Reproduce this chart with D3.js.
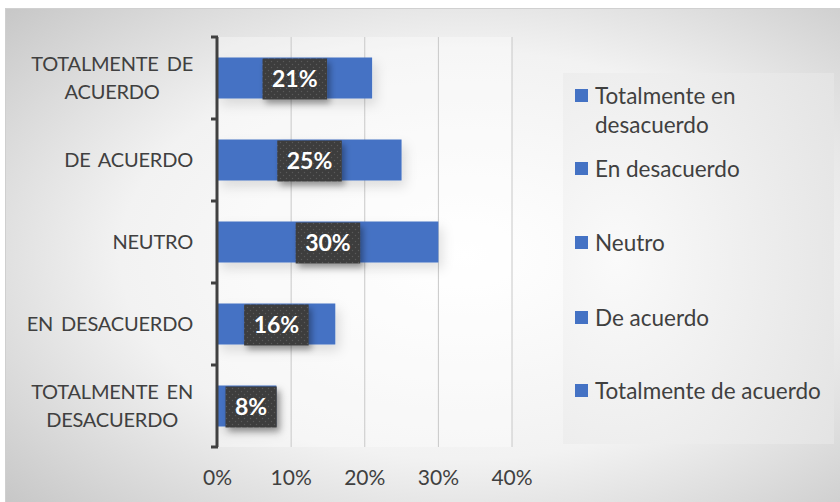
<!DOCTYPE html>
<html><head><meta charset="utf-8">
<script src="https://cdn.jsdelivr.net/npm/d3@7/dist/d3.min.js"></script>
<style>body{margin:0;background:#fff}svg{display:block}</style>
</head><body>
<script>
const categories = [["TOTALMENTE DE","ACUERDO"],["DE ACUERDO"],["NEUTRO"],["EN DESACUERDO"],["TOTALMENTE EN","DESACUERDO"]];
const values = [0.21, 0.25, 0.30, 0.16, 0.08];
const labels = ["21%","25%","30%","16%","8%"];
const xTicks = [0, 0.1, 0.2, 0.3, 0.4];
const legendItems = [["Totalmente en","desacuerdo"],["En desacuerdo"],["Neutro"],["De acuerdo"],["Totalmente de acuerdo"]];

const W = 840, H = 502;
const svg = d3.select("body").append("svg").attr("width", W).attr("height", H);
const defs = svg.append("defs");
const rg = defs.append("radialGradient").attr("id","bg").attr("cx","0.55").attr("cy","0.5").attr("r","0.75");
rg.append("stop").attr("offset","0").attr("stop-color","#ffffff");
rg.append("stop").attr("offset","0.55").attr("stop-color","#f2f2f2");
rg.append("stop").attr("offset","1").attr("stop-color","#c6c6c6");
const lg = defs.append("radialGradient").attr("id","lgbg").attr("cx","0.2").attr("cy","0.5").attr("r","1");
lg.append("stop").attr("offset","0").attr("stop-color","#fafafa");
lg.append("stop").attr("offset","1").attr("stop-color","#e2e2e2");
const pat = defs.append("pattern").attr("id","dots").attr("width",6).attr("height",6).attr("patternUnits","userSpaceOnUse");
pat.append("rect").attr("width",6).attr("height",6).attr("fill","#3d3d3d");
pat.append("circle").attr("cx",1.5).attr("cy",1.5).attr("r",0.7).attr("fill","#5a5a5a");
pat.append("circle").attr("cx",4.5).attr("cy",4.5).attr("r",0.7).attr("fill","#5a5a5a");
const sh = defs.append("filter").attr("id","sh").attr("x","-20%").attr("y","-30%").attr("width","150%").attr("height","180%");
sh.append("feDropShadow").attr("dx",3).attr("dy",4).attr("stdDeviation",3).attr("flood-color","#000").attr("flood-opacity",0.35);
const sh2 = defs.append("filter").attr("id","sh2").attr("x","-20%").attr("y","-50%").attr("width","150%").attr("height","250%");
sh2.append("feDropShadow").attr("dx",4).attr("dy",6).attr("stdDeviation",6).attr("flood-color","#000").attr("flood-opacity",0.12);

svg.append("rect").attr("x",5).attr("y",8).attr("width",W-5).attr("height",H-8).attr("fill","url(#bg)");
svg.append("line").attr("x1",5).attr("x2",W).attr("y1",8.5).attr("y2",8.5).attr("stroke","#d0d0d0");
svg.append("line").attr("x1",5.5).attr("x2",5.5).attr("y1",8).attr("y2",H).attr("stroke","#cfcfcf");

const x = d3.scaleLinear().domain([0,0.4]).range([217.5,512]);
const y = d3.scaleBand().domain(d3.range(categories.length)).range([37,447]).paddingInner(0.5).paddingOuter(0.25);
const band = d3.scaleBand().domain(d3.range(categories.length)).range([37,447]);

svg.append("rect").attr("x",x(0)).attr("y",37).attr("width",x(0.4)-x(0)).attr("height",410).attr("fill","#fff").attr("opacity",0.35);

svg.append("g").selectAll("line").data(xTicks.slice(1)).join("line")
  .attr("x1",d=>x(d)).attr("x2",d=>x(d)).attr("y1",37).attr("y2",447)
  .attr("stroke","#c8c8c8").attr("stroke-width",1);

svg.append("g").selectAll("rect").data(values).join("rect")
  .attr("x",x(0)).attr("y",(d,i)=>y(i)).attr("width",d=>x(d)-x(0)).attr("height",y.bandwidth())
  .attr("fill","#4472C4").attr("filter","url(#sh2)");

const ax = svg.append("g");
ax.append("line").attr("x1",217).attr("x2",217).attr("y1",37).attr("y2",447).attr("stroke","#404040").attr("stroke-width",3);
ax.selectAll("line.t").data(d3.range(categories.length+1)).join("line").attr("class","t")
  .attr("x1",211).attr("x2",218).attr("y1",i=>i<categories.length?band(i):447).attr("y2",i=>i<categories.length?band(i):447)
  .attr("stroke","#404040").attr("stroke-width",3);

const font = "Lato, 'Open Sans', sans-serif";
const cl = svg.append("g").attr("font-family",font).attr("font-size",20).attr("fill","#404040");
categories.forEach((lines,i)=>{
  const cy = band(i)+band.bandwidth()/2;
  const g = cl.append("g");
  const n = lines.length, lh = 28;
  const ts = lines.map((t,j)=>g.append("text").attr("y",cy+(j-(n-1)/2)*lh).attr("dy","0.35em").attr("word-spacing","3px").attr("letter-spacing","-0.2px").text(t));
  const widths = ts.map(t=>t.node().getComputedTextLength());
  const mw = d3.max(widths);
  ts.forEach(t=>t.attr("x",193-mw/2).attr("text-anchor","middle"));
});

svg.append("g").attr("font-family",font).attr("font-size",21).attr("fill","#404040")
  .selectAll("text").data(xTicks).join("text")
  .attr("x",d=>x(d)).attr("y",478).attr("dy","0.35em").attr("text-anchor","middle").text(d=>d3.format(".0%")(d));

const dl = svg.append("g");
values.forEach((v,i)=>{
  const cx = (x(0)+x(v))/2;
  const tmp = dl.append("text").attr("font-family",font).attr("font-weight","bold").attr("font-size",23).text(labels[i]);
  const tw = tmp.node().getComputedTextLength();
  tmp.remove();
  const bw = tw+19;
  let bx = cx-bw/2;
  if (bx < x(0)+6) bx = x(0)+8;
  dl.append("rect").attr("x",bx).attr("y",y(i)+1).attr("width",bw).attr("height",y.bandwidth()).attr("fill","url(#dots)").attr("filter","url(#sh)");
  dl.append("text").attr("x",bx+bw/2).attr("y",y(i)+1+y.bandwidth()/2).attr("dy","0.36em").attr("text-anchor","middle")
    .attr("font-family",font).attr("font-weight","bold").attr("font-size",23).attr("fill","#fff").text(labels[i]);
});

svg.append("rect").attr("x",563).attr("y",73).attr("width",271).attr("height",371).attr("fill","url(#lgbg)");
const legY = [96,169,243,318,391];
const leg = svg.append("g").attr("font-family",font).attr("font-size",22.5).attr("fill","#404040");
legendItems.forEach((lines,i)=>{
  leg.append("rect").attr("x",575).attr("y",legY[i]-7).attr("width",13).attr("height",13).attr("fill","#4472C4");
  lines.forEach((t,j)=>leg.append("text").attr("x",595).attr("y",legY[i]+j*29).attr("dy","0.35em").text(t));
});
</script>
</body></html>
